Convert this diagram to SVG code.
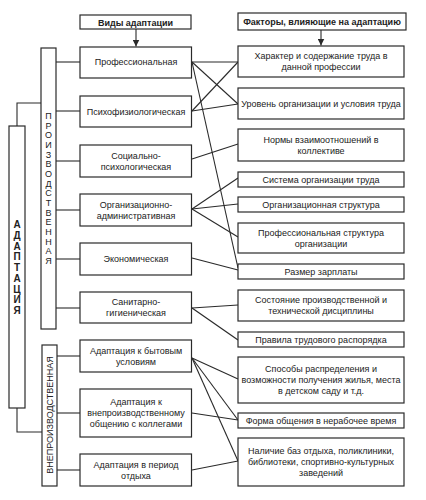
<svg xmlns="http://www.w3.org/2000/svg" width="426" height="500" viewBox="0 0 426 500">
<style>
.b{fill:#fff;stroke:#2a2a2a;stroke-width:1.2}
.t{font-family:"Liberation Sans",Arial,sans-serif;font-size:9px;fill:#222;text-anchor:middle}
.h{font-weight:bold}
.c{fill:none;stroke:#2a2a2a;stroke-width:1.1}
</style>
<defs>
<marker id="ar" viewBox="0 0 10 10" refX="10" refY="5" markerWidth="7" markerHeight="7" orient="auto" markerUnits="userSpaceOnUse">
<path d="M0,0 L10,5 L0,10 z" fill="#2a2a2a"/>
</marker>
</defs>
<rect width="426" height="500" fill="#fff"/>

<g id="connectors" class="c">
<line x1="136" y1="29" x2="136" y2="46.5" marker-end="url(#ar)"/>
<line x1="321" y1="30" x2="321" y2="45.5" marker-end="url(#ar)"/>
<polyline points="17,126 17,103 41,103"/>
<polyline points="17,408 17,432 42,432"/>
<line x1="56" y1="62" x2="80" y2="62"/>
<line x1="56" y1="111" x2="80" y2="111"/>
<line x1="56" y1="161" x2="80" y2="161"/>
<line x1="56" y1="210" x2="80" y2="210"/>
<line x1="56" y1="259" x2="80" y2="259"/>
<line x1="56" y1="308" x2="80" y2="308"/>
<line x1="57" y1="356" x2="80" y2="356"/>
<line x1="57" y1="413" x2="80" y2="413"/>
<line x1="57" y1="470" x2="80" y2="470"/>
<line x1="192" y1="62" x2="238" y2="62"/>
<line x1="192" y1="62" x2="238" y2="104"/>
<line x1="192" y1="62" x2="238" y2="268"/>
<line x1="192" y1="111" x2="238" y2="62"/>
<line x1="192" y1="111" x2="238" y2="104"/>
<line x1="192" y1="159" x2="238" y2="144"/>
<line x1="192" y1="209" x2="238" y2="178"/>
<line x1="192" y1="209" x2="238" y2="204"/>
<line x1="192" y1="209" x2="238" y2="237"/>
<line x1="192" y1="258" x2="238" y2="270"/>
<line x1="192" y1="308" x2="238" y2="305"/>
<line x1="192" y1="308" x2="238" y2="340"/>
<line x1="192" y1="358" x2="238" y2="379"/>
<line x1="192" y1="358" x2="238" y2="420"/>
<line x1="192" y1="358" x2="238" y2="461"/>
<line x1="192" y1="413" x2="238" y2="420"/>
<line x1="192" y1="470" x2="238" y2="461"/>
</g>

<g id="adaptation">
<rect class="b" x="9" y="126" width="16" height="282"/>
<g class="t h" font-size="10">
<text x="17" y="228" style="font-size:10px">А</text>
<text x="17" y="239" style="font-size:10px">Д</text>
<text x="17" y="250" style="font-size:10px">А</text>
<text x="17" y="260" style="font-size:10px">П</text>
<text x="17" y="271" style="font-size:10px">Т</text>
<text x="17" y="282" style="font-size:10px">А</text>
<text x="17" y="293" style="font-size:10px">Ц</text>
<text x="17" y="303" style="font-size:10px">И</text>
<text x="17" y="314" style="font-size:10px">Я</text>
</g>
</g>

<g id="production">
<rect class="b" x="41" y="48" width="15" height="281"/>
<g class="t">
<text x="48.5" y="119">П</text>
<text x="48.5" y="128.7">Р</text>
<text x="48.5" y="138.3">О</text>
<text x="48.5" y="148">И</text>
<text x="48.5" y="157.7">З</text>
<text x="48.5" y="167.3">В</text>
<text x="48.5" y="177">О</text>
<text x="48.5" y="186.7">Д</text>
<text x="48.5" y="196.3">С</text>
<text x="48.5" y="206">Т</text>
<text x="48.5" y="215.7">В</text>
<text x="48.5" y="225.3">Е</text>
<text x="48.5" y="235">Н</text>
<text x="48.5" y="244.7">Н</text>
<text x="48.5" y="254.3">А</text>
<text x="48.5" y="264">Я</text>
</g>
</g>

<g id="nonproduction">
<rect class="b" x="42" y="345" width="15" height="141"/>
<text class="t" transform="translate(52.6,415) rotate(-90)">ВНЕПРОИЗВОДСТВЕННАЯ</text>
</g>

<g id="types-header">
<rect class="b" x="80" y="15" width="111" height="14"/>
<text class="t h" x="135.5" y="25.5">Виды адаптации</text>
</g>
<g id="factors-header">
<rect class="b" x="238" y="13" width="168" height="17"/>
<text class="t h" x="322" y="24.8">Факторы, влияющие на адаптацию</text>
</g>

<g id="l1"><rect class="b" x="80" y="47" width="111.5" height="31"/><text class="t" x="136" y="65.2">Профессиональная</text></g>
<g id="l2"><rect class="b" x="80" y="96" width="111.5" height="31"/><text class="t" x="136" y="114.5">Психофизиологическая</text></g>
<g id="l3"><rect class="b" x="80" y="145" width="111.5" height="32"/><text class="t" x="136" y="158.7">Социально-</text><text class="t" x="136" y="169.7">психологическая</text></g>
<g id="l4"><rect class="b" x="80" y="194" width="111.5" height="32"/><text class="t" x="136" y="207.7">Организационно-</text><text class="t" x="136" y="218.7">административная</text></g>
<g id="l5"><rect class="b" x="80" y="243" width="111.5" height="32"/><text class="t" x="136" y="262.2">Экономическая</text></g>
<g id="l6"><rect class="b" x="80" y="292" width="111.5" height="31"/><text class="t" x="136" y="305.2">Санитарно-</text><text class="t" x="136" y="316.2">гигиеническая</text></g>
<g id="l7"><rect class="b" x="80" y="340" width="111.5" height="32"/><text class="t" x="136" y="353.7">Адаптация к бытовым</text><text class="t" x="136" y="364.7">условиям</text></g>
<g id="l8"><rect class="b" x="80" y="389" width="111.5" height="48"/><text class="t" x="136" y="405.2">Адаптация к</text><text class="t" x="136" y="416.2">внепроизводственному</text><text class="t" x="136" y="427.2">общению с коллегами</text></g>
<g id="l9"><rect class="b" x="80" y="454" width="111.5" height="32"/><text class="t" x="136" y="467.7">Адаптация в период</text><text class="t" x="136" y="478.7">отдыха</text></g>

<g id="r1"><rect class="b" x="238" y="46" width="166" height="31"/><text class="t" x="321" y="59.2">Характер и содержание труда в</text><text class="t" x="321" y="70.2">данной профессии</text></g>
<g id="r2"><rect class="b" x="238" y="88" width="166" height="31"/><text class="t" x="321" y="106.7">Уровень организации и условия труда</text></g>
<g id="r3"><rect class="b" x="238" y="129" width="166" height="32"/><text class="t" x="321" y="142.7">Нормы взаимоотношений в</text><text class="t" x="321" y="153.7">коллективе</text></g>
<g id="r4"><rect class="b" x="238" y="172" width="166" height="15"/><text class="t" x="321" y="182.7">Система организации труда</text></g>
<g id="r5"><rect class="b" x="238" y="197" width="166" height="15"/><text class="t" x="321" y="207.7">Организационная структура</text></g>
<g id="r6"><rect class="b" x="238" y="223" width="166" height="30"/><text class="t" x="321" y="235.7">Профессиональная структура</text><text class="t" x="321" y="246.7">организации</text></g>
<g id="r7"><rect class="b" x="238" y="264" width="166" height="15"/><text class="t" x="321" y="274.7">Размер зарплаты</text></g>
<g id="r8"><rect class="b" x="238" y="290" width="166" height="31"/><text class="t" x="321" y="303.2">Состояние производственной и</text><text class="t" x="321" y="314.2">технической дисциплины</text></g>
<g id="r9"><rect class="b" x="238" y="332" width="166" height="15"/><text class="t" x="321" y="342.7">Правила трудового распорядка</text></g>
<g id="r10"><rect class="b" x="238" y="357" width="166" height="46"/><text class="t" x="321" y="372.2">Способы распределения и</text><text class="t" x="321" y="383.2">возможности получения жилья, места</text><text class="t" x="321" y="394.2">в детском саду  и т.д.</text></g>
<g id="r11"><rect class="b" x="238" y="413" width="166" height="15"/><text class="t" x="321" y="423.7">Форма общения в нерабочее время</text></g>
<g id="r12"><rect class="b" x="238" y="438" width="166" height="48"/><text class="t" x="321" y="454.2">Наличие баз отдыха, поликлиники,</text><text class="t" x="321" y="465.2">библиотеки, спортивно-культурных</text><text class="t" x="321" y="476.2">заведений</text></g>
</svg>
